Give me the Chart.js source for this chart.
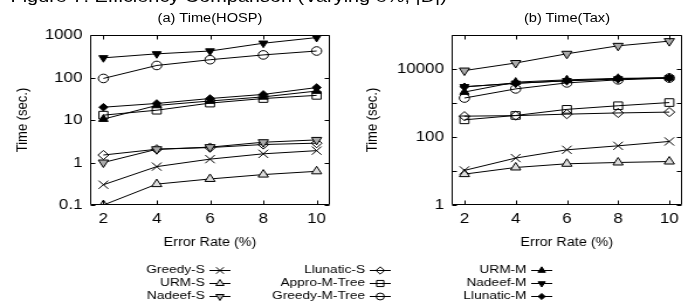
<!DOCTYPE html>
<html>
<head>
<meta charset="utf-8">
<script src="https://cdn.jsdelivr.net/npm/chart.js@4.4.0/dist/chart.umd.min.js"></script>
<style>
  html, body { margin: 0; padding: 0; background: #fff; overflow: hidden; }
  #page { position: relative; width: 591px; height: 304px; transform: scaleX(1.17); transform-origin: 0 0;
          font-family: "Liberation Sans", Arial, Helvetica, sans-serif; color: #000; }
  #page canvas, #page div { position: absolute; }
  #caption { left: 9px; top: -12px; font-size: 17px; line-height: 17px; white-space: nowrap; }
  .sub { top: 11px; width: 200px; text-align: center; font-size: 12.5px; line-height: 15px; }
</style>
</head>
<body>
<div id="page">
  <div id="caption">Figure 7: Efficiency Comparison (Varying e%, |D|)</div>
  <div class="sub" style="left:79.5px">(a) Time(HOSP)</div>
  <div class="sub" style="left:384.6px">(b) Time(Tax)</div>
  <canvas id="hosp" width="295" height="256" style="left:0;top:0"></canvas>
  <canvas id="tax" width="296" height="256" style="left:295px;top:0"></canvas>
  <canvas id="legend" width="591" height="48" style="left:0;top:256px"></canvas>
</div>
<script>
const FONT = '"Liberation Sans", Arial, Helvetica, sans-serif';

const errorRates = [2, 4, 6, 8, 10];
const seriesNames = ['Greedy-S', 'URM-S', 'Nadeef-S', 'Llunatic-S', 'Appro-M-Tree',
                     'Greedy-M-Tree', 'URM-M', 'Nadeef-M', 'Llunatic-M'];

// (a) HOSP, seconds
const hospGreedyS     = [0.3, 0.8, 1.2, 1.6, 1.9];
const hospUrmS        = [0.1, 0.31, 0.41, 0.52, 0.62];
const hospNadeefS     = [1.0, 2.05, 2.3, 3.0, 3.4];
const hospLlunaticS   = [1.5, 2.05, 2.25, 2.65, 2.85];
const hospApproMTree  = [13, 17, 25, 32, 38];
const hospGreedyMTree = [95, 192, 262, 340, 420];
const hospUrmM        = [10.5, 22, 28, 35, 48];
const hospNadeefM     = [290, 360, 420, 640, 870];
const hospLlunaticM   = [20, 24.5, 32, 40, 58];

// (b) Tax, seconds
const taxGreedyS     = [10.4, 24, 42, 55, 74];
const taxUrmS        = [8.1, 12.7, 16.3, 17.8, 19];
const taxNadeefS     = [9000, 15000, 28000, 48000, 66000];
const taxLlunaticS   = [410, 425, 470, 510, 540];
const taxApproMTree  = [320, 430, 650, 830, 1030];
const taxGreedyMTree = [1400, 2600, 3900, 4800, 5400];
const taxUrmM        = [2100, 4100, 4800, 5300, 5500];
const taxNadeefM     = [3000, 3800, 4500, 5100, 5500];
const taxLlunaticM   = [3000, 3800, 4500, 5100, 5500];

const hospTicks = [0.1, 1, 10, 100, 1000];
const hospTickLabels = ['0.1', '1', '10', '100', '1000'];
const taxTicks = [1, 10, 100, 1000, 10000, 100000];
const taxTickLabels = ['1', '', '100', '', '10000', ''];

// marker look per series (same order as seriesNames)
const markers = [
  {style: 'crossRot', radius: 5.8, fill: 'rgba(0,0,0,0)'},
  {style: 'triangle', radius: 5,   fill: '#ddd'},
  {style: 'triangle', radius: 5,   fill: '#aaa', rotation: 180},
  {style: 'rectRot',  radius: 4.6, fill: 'rgba(0,0,0,0)'},
  {style: 'rect',     radius: 5.4, fill: 'rgba(0,0,0,0)'},
  {style: 'circle',   radius: 4.3, fill: 'rgba(0,0,0,0)'},
  {style: 'triangle', radius: 4.6, fill: '#000'},
  {style: 'triangle', radius: 4.4, fill: '#000', rotation: 180},
  {style: 'rectRot',  radius: 3.8, fill: '#000'}
];

function makeDatasets(values) {
  return values.map(function(vals, i) {
    const m = markers[i];
    return {
      label: seriesNames[i],
      data: errorRates.map(function(x, j) { return {x: x, y: vals[j]}; }),
      borderColor: '#000',
      borderWidth: 1,
      backgroundColor: m.fill,
      pointStyle: m.style,
      pointRotation: m.rotation || 0,
      pointRadius: m.radius,
      pointBorderWidth: 1,
      pointBorderColor: '#000',
      pointBackgroundColor: m.fill,
      fill: false,
      tension: 0
    };
  });
}

// gnuplot style box with inward ticks on all four sides
const frameTicks = {
  id: 'frameTicks',
  afterDraw(chart) {
    const {ctx, chartArea: a, scales: {x, y}} = chart;
    const L = Math.round(a.left) + 0.5, R = Math.round(a.right) - 0.5;
    const T = Math.round(a.top) + 0.5, B = Math.round(a.bottom) - 0.5;
    ctx.save();
    ctx.strokeStyle = '#000';
    ctx.lineWidth = 1;
    ctx.beginPath();
    ctx.rect(L, T, R - L, B - T);
    x.ticks.forEach(function(t) {
      const px = Math.round(x.getPixelForValue(t.value)) + 0.5;
      ctx.moveTo(px, B); ctx.lineTo(px, B - 4);
      ctx.moveTo(px, T); ctx.lineTo(px, T + 4);
    });
    y.ticks.forEach(function(t) {
      const py = Math.round(y.getPixelForValue(t.value)) + 0.5;
      ctx.moveTo(L, py); ctx.lineTo(L + 4, py);
      ctx.moveTo(R, py); ctx.lineTo(R - 4, py);
    });
    ctx.stroke();
    ctx.restore();
  }
};

function makeChart(id, values, yMin, yMax, yTicks, yLabels, yWidth, yTitlePad, padRight) {
  return new Chart(document.getElementById(id), {
    type: 'line',
    data: {datasets: makeDatasets(values)},
    options: {
      responsive: false,
      animation: false,
      events: [],
      layout: {padding: {top: 35, right: padRight, left: 0, bottom: 0}},
      plugins: {legend: {display: false}, tooltip: {enabled: false}},
      scales: {
        x: {
          type: 'linear', min: 1.5, max: 10.5,
          afterBuildTicks: function(s) { s.ticks = errorRates.map(function(v) { return {value: v}; }); },
          afterFit: function(s) { s.height = 51; },
          grid: {display: false, drawTicks: false},
          border: {display: false},
          ticks: {color: '#000', font: {family: FONT, size: 14.5}, padding: 5, autoSkip: false, maxRotation: 0},
          title: {display: true, text: 'Error Rate (%)', color: '#000', font: {family: FONT, size: 12.3},
                  padding: {top: 0, bottom: 5.6}}
        },
        y: {
          type: 'logarithmic', min: yMin, max: yMax,
          afterBuildTicks: function(s) { s.ticks = yTicks.map(function(v) { return {value: v}; }); },
          afterFit: function(s) { s.width = yWidth; },
          grid: {display: false, drawTicks: false},
          border: {display: false},
          ticks: {color: '#000', font: {family: FONT, size: 14.5}, padding: 6.5, autoSkip: false,
                  callback: function(v, i) { return yLabels[i]; }},
          title: {display: true, text: 'Time (sec.)', color: '#000', font: {family: FONT, size: 13},
                  padding: {top: yTitlePad, bottom: 0}}
        }
      }
    },
    plugins: [frameTicks]
  });
}

makeChart('hosp',
  [hospGreedyS, hospUrmS, hospNadeefS, hospLlunaticS, hospApproMTree,
   hospGreedyMTree, hospUrmM, hospNadeefM, hospLlunaticM],
  0.1, 1000, hospTicks, hospTickLabels, 77, 11.9, 13);

makeChart('tax',
  [taxGreedyS, taxUrmS, taxNadeefS, taxLlunaticS, taxApproMTree,
   taxGreedyMTree, taxUrmM, taxNadeefM, taxLlunaticM],
  1, 100000, taxTicks, taxTickLabels, 91, 16, 8);

// shared legend, 3 columns x 3 rows, label then line sample
(function drawLegend() {
  const ctx = document.getElementById('legend').getContext('2d');
  const colRight = [175, 312, 450];
  const rowY = [13.5, 27, 40];
  const drawPoint = Chart.helpers && Chart.helpers.drawPoint;
  ctx.font = '11.7px ' + FONT;
  ctx.textAlign = 'right';
  ctx.textBaseline = 'middle';
  ctx.lineWidth = 1;
  ctx.strokeStyle = '#000';
  seriesNames.forEach(function(name, i) {
    const cx = colRight[Math.floor(i / 3)];
    const cy = rowY[i % 3];
    ctx.fillStyle = '#000';
    ctx.fillText(name, cx, cy);
    ctx.beginPath();
    ctx.moveTo(cx + 4, Math.round(cy) + 0.5);
    ctx.lineTo(cx + 22, Math.round(cy) + 0.5);
    ctx.stroke();
    const m = markers[i];
    ctx.fillStyle = m.fill;
    if (drawPoint) {
      drawPoint(ctx, {pointStyle: m.style, rotation: m.rotation || 0, radius: m.radius * 0.8, borderWidth: 1},
                cx + 13, Math.round(cy) + 0.5);
    } else {
      ctx.beginPath();
      ctx.arc(cx + 13, cy, m.radius * 0.8, 0, Math.PI * 2);
      ctx.fill();
      ctx.stroke();
    }
  });
})();
</script>
</body>
</html>
